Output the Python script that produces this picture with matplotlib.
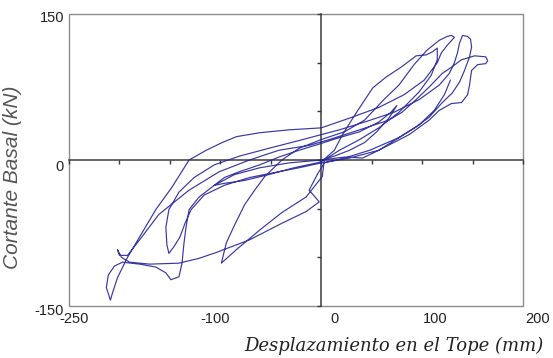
import matplotlib
matplotlib.use("Agg")
import matplotlib.pyplot as plt
from matplotlib.patches import Rectangle
from matplotlib.transforms import offset_copy

# Lazo histeretico (desplazamiento mm, cortante kN)
# ciclo 1: pequeno, cerca del origen
d_c1 = [0, 13, 28, 43, 55, 67, 75,
        69, 57, 38, 18, 0, -22, -42, -61, -81, -96, -106,
        -96, -76, -52, -27, 0, 13, 21, 35, 51, 64, 80, 94, 104, 110, 115]
v_c1 = [0, 4, 10, 18, 29, 43, 56,
        49, 39, 29, 23, 17, 10, 3, -5, -12, -18, -26,
        -24, -21, -15, -8, -2, 10, 26, 49, 74, 85, 96, 107, 108, 111, 115]

# ciclo 2: descarga hasta el pico en V (-100) y recarga
d_c2 = [115, 109, 97, 77, 57, 38, 18, 3, 1, -15, -39, -61, -84, -99,
        -94, -86, -76, -66, -56, -39, -22, 0, 23, 43, 62, 77, 92, 105, 117, 125, 129, 132]
v_c2 = [103, 87, 70, 49, 33, 21, 10, 0, -17, -38, -54, -72, -92, -106,
        -85, -67, -46, -31, -17, 0, 12, 21, 29, 41, 62, 77, 98, 113, 123, 127, 128, 126]

# ciclo 3: arco superior hasta el minimo (-209, -144)
d_c3 = [125, 119, 115, 102, 82, 57, 28, 0, -32, -61, -84, -98, -114, -131,
        -148, -164, -180, -192, -202, -207, -209,
        -213, -211, -205, -197, -180, -164, -154, -149,
        -141, -138, -136, -134, -131, -121, -106, -86, -61, -32, 0, 23,
        41, 57, 74, 94, 107, 120, 130, 137, 142, 147, 149, 148, 145]
v_c3 = [118, 110, 100, 82, 67, 54, 43, 33, 31, 28, 24, 18, 10, 0,
        -28, -51, -79, -100, -121, -137, -144,
        -131, -118, -109, -105, -107, -110, -116, -123,
        -120, -106, -85, -69, -51, -38, -26, -15, -8, -3, 0, 3,
        2, 10, 21, 34, 44, 59, 69, 80, 92, 106, 116, 124, 127]

# ciclo 4: descarga hasta el lazo (-151, -96) y recarga a la punta derecha
d_c4 = [140, 137, 135, 132, 127, 117, 97, 72, 43, 18, 0, -22, -52, -81, -106,
        -126, -141, -151, -154, -153, -151,
        -146, -140, -135, -129, -116, -96, -71, -42, -22, 0, 28, 57, 87, 107, 117,
        129, 139, 145, 147, 149, 155, 163, 165, 163, 152, 139]
v_c4 = [128, 120, 110, 100, 89, 77, 62, 49, 39, 31, 26, 20, 12, 4, -5,
        -18, -33, -51, -69, -87, -96,
        -89, -79, -65, -51, -36, -26, -18, -12, -8, -3, 2, 10, 26, 41, 51,
        58, 59, 67, 77, 92, 98, 99, 102, 106, 107, 103]

# ciclo 5: descarga final hasta el gancho (-202, -92) y regreso
d_c5 = [130, 120, 107, 94, 80, 67, 38, 8, -12, -42, -71, -101, -131, -161, -180,
        -192, -200, -202, -198, -190, -170, -141, -121, -104, -71, -39, -15, -2,
        -12, -4, 3, 23, 48, 77, 97, 112, 122, 128]
v_c5 = [96, 89, 75, 62, 49, 41, 31, 21, 15, 10, 0, -12, -31, -56, -82,
        -98, -98, -92, -100, -105, -107, -106, -101, -95, -82, -65, -53, -43,
        -31, -15, -3, 2, 10, 23, 36, 51, 67, 82]

desplaz = d_c1 + d_c2 + d_c3 + d_c4 + d_c5
cortante = v_c1 + v_c2 + v_c3 + v_c4 + v_c5

xtick_vals = [-250, -100, 0, 100, 200]
xtick_dx = [5, -5, 13, 13, 15]  # desplazamiento de las etiquetas (px)
ytick_vals = [150, 0, -150]
ytick_dy = [-4, -7, -5]

fig = plt.figure(figsize=(5.53, 3.58), dpi=100)
ax = fig.add_axes([0.1248, 0.1453, 0.821, 0.8156])

ax.plot(desplaz, cortante, color="#22229c", lw=0.85, alpha=0.9, zorder=3)

ax.set_xlim(-250, 200)
ax.set_ylim(-150, 150)

# ejes cruzados en el origen
for s in ["top", "right"]:
    ax.spines[s].set_visible(False)
ax.spines["left"].set_position(("data", 0))
ax.spines["bottom"].set_position(("data", 0))
for s in ["left", "bottom"]:
    ax.spines[s].set_color("#3a3a3a")
    ax.spines[s].set_linewidth(1.1)
ax.set_xticks(range(-250, 201, 50))
ax.set_yticks(range(-150, 151, 50))
ax.tick_params(direction="out", length=3, width=1, color="#3a3a3a",
               labelbottom=False, labelleft=False)

ax.add_patch(Rectangle((0, 0), 1, 1, transform=ax.transAxes, fill=False,
                       edgecolor="#8c8c8c", lw=1.0, clip_on=False, zorder=1))

lab_font = dict(family="Liberation Sans", fontsize=10.5, color="#222222")
for v, dx in zip(xtick_vals, xtick_dx):
    tr = offset_copy(ax.get_xaxis_transform(), fig=fig, x=dx * 0.72, y=-13 * 0.72, units="points")
    ax.text(v, 0, str(v), transform=tr, ha="center", va="center", **lab_font)
for v, dy in zip(ytick_vals, ytick_dy):
    tr = offset_copy(ax.get_yaxis_transform(), fig=fig, x=-5 * 0.72, y=dy * 0.72, units="points")
    ax.text(0, v, str(v), transform=tr, ha="right", va="center", **lab_font)

fig.text(0.022, 0.505, "Cortante Basal (kN)", rotation=90, ha="center", va="center",
         family="Liberation Sans", style="italic", fontsize=15, color="#555555")
fig.text(0.712, 0.035, "Desplazamiento en el Tope (mm)", ha="center", va="center",
         family="DejaVu Serif", style="italic", fontsize=13, color="#222222")

fig.savefig("out.png", dpi=100)
